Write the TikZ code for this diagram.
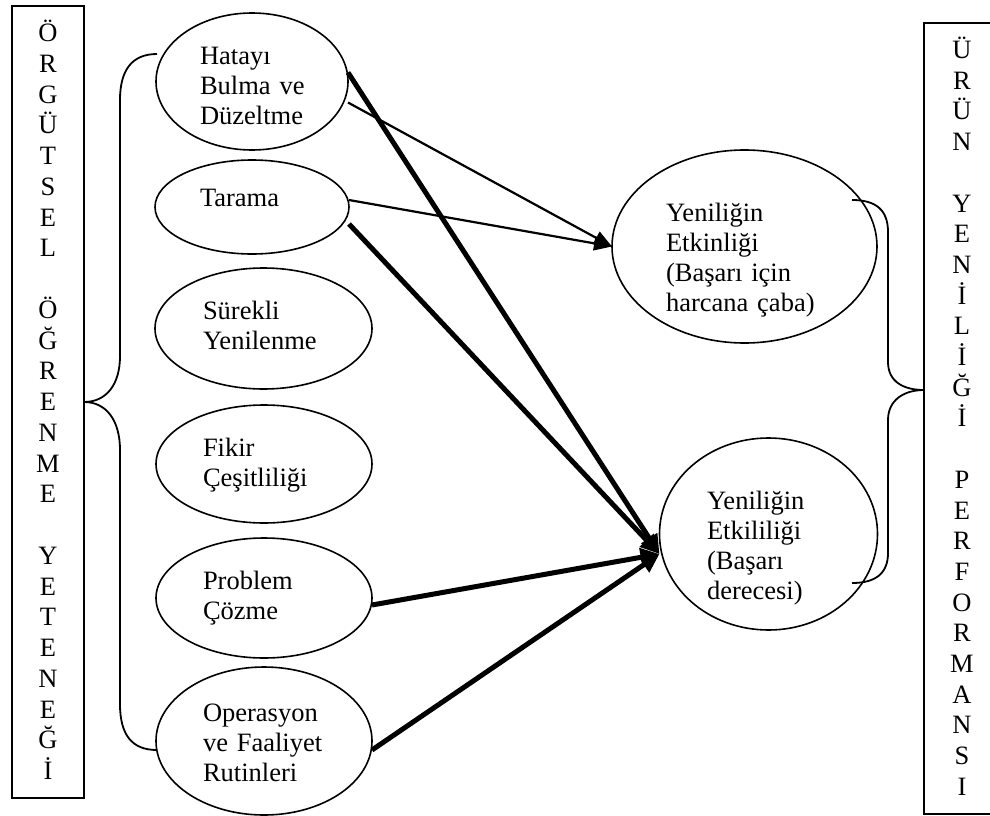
\documentclass[tikz,border=0pt]{standalone}
\usepackage{fontspec}
\setmainfont{Liberation Serif}
\usetikzlibrary{arrows.meta,shapes.geometric}
\begin{document}
\begin{tikzpicture}[x=1pt,y=-1pt,
  every node/.style={inner sep=0pt, outer sep=0pt},
  oval/.style={draw, ellipse, line width=1.6pt},
  caption/.style={anchor=base west, text width=220pt, align=left,
    font=\fontsize{26.5}{30}\selectfont},
  letter/.style={anchor=base, font=\fontsize{26.5}{30}\selectfont},
  frame/.style={draw, rectangle, line width=2pt},
  thin link/.style={line width=2.2pt, -{Triangle[length=18pt,width=14pt]}},
  thick link/.style={line width=5pt, -{Triangle[length=19pt,width=18pt]}},
  brace line/.style={line width=1.8pt},
]
\useasboundingbox (0,0) rectangle (990,816);

% side frames with vertical titles
\node[frame, minimum width=72pt, minimum height=792pt] (leftbox) at (48,402) {};
\node[frame, minimum width=76pt, minimum height=791pt] (rightbox) at (962,418.5) {};
\foreach \ch [count=\i from 0] in {Ö,R,G,Ü,T,S,E,L,{},Ö,Ğ,R,E,N,M,E,{},Y,E,T,E,N,E,Ğ,İ}
  \node[letter] (lt\i) at (48,{41.5+30.75*\i}) {\ch};
\foreach \ch [count=\i from 0] in {Ü,R,Ü,N,{},Y,E,N,İ,L,İ,Ğ,İ,{},P,E,R,F,O,R,M,A,N,S,I}
  \node[letter] (rt\i) at (962,{58.5+30.7*\i}) {\ch};

% learning capability components
\node[oval, minimum width=192pt, minimum height=137pt] (hata) at (252,81.5) {};
\node[oval, minimum width=194pt, minimum height=94pt] (tar) at (252,207) {};
\node[oval, minimum width=217pt, minimum height=121pt] (sur) at (263.5,328.5) {};
\node[oval, minimum width=216pt, minimum height=118pt] (fik) at (264,464) {};
\node[oval, minimum width=216pt, minimum height=120pt] (prob) at (264,598) {};
\node[oval, minimum width=216pt, minimum height=148pt] (oper) at (264,741) {};

\node[caption] (hataT) at (200,64) {Hatayı\\Bulma ve\\Düzeltme};
\node[caption] (tarT) at (200,206) {Tarama};
\node[caption] (surT) at (203,319) {Sürekli\\Yenilenme};
\node[caption] (fikT) at (203,456) {Fikir\\Çeşitliliği};
\node[caption] (probT) at (203,589) {Problem\\Çözme};
\node[caption] (operT) at (203,721) {Operasyon\\ve Faaliyet\\Rutinleri};

% innovation performance outcomes
\node[oval, minimum width=265pt, minimum height=193pt] (eff1) at (744.5,246.5) {};
\node[oval, minimum width=218pt, minimum height=192pt] (eff2) at (768.5,534) {};
\node[caption] (eff1T) at (666,221) {Yeniliğin\\Etkinliği\\(Başarı için\\harcana çaba)};
\node[caption] (eff2T) at (707,509) {Yeniliğin\\Etkililiği\\(Başarı\\derecesi)};

% braces
\draw[brace line] (157,54) .. controls (132,54) and (120,70) .. (120,100)
  -- (120,356) .. controls (120,385) and (106,402) .. (leftbox.east)
  .. controls (106,402) and (120,420) .. (120,450)
  -- (120,704) .. controls (120,735) and (132,750) .. (157,750);
\draw[brace line] (852,200) .. controls (876,200) and (888,210) .. (888,232)
  -- (888,362) .. controls (888,382) and (904,390) .. (924,390)
  .. controls (904,390) and (888,400) .. (888,420)
  -- (888,553) .. controls (888,573) and (876,583) .. (852,583);

% relations
\draw[thin link] ([yshift=-21pt]hata.east) -- (eff1.west);
\draw[thin link] ([yshift=7pt]tar.east) -- (eff1.west);
\draw[thick link] ([yshift=9pt]hata.east) -- ([yshift=-20pt]eff2.west);
\draw[thick link] ([yshift=-17pt]tar.east) -- ([yshift=-20pt]eff2.west);
\draw[thick link] ([yshift=-7pt]prob.east) -- ([yshift=-20pt]eff2.west);
\draw[thick link] ([yshift=-9pt]oper.east) -- ([yshift=-20pt]eff2.west);
\end{tikzpicture}
\end{document}
